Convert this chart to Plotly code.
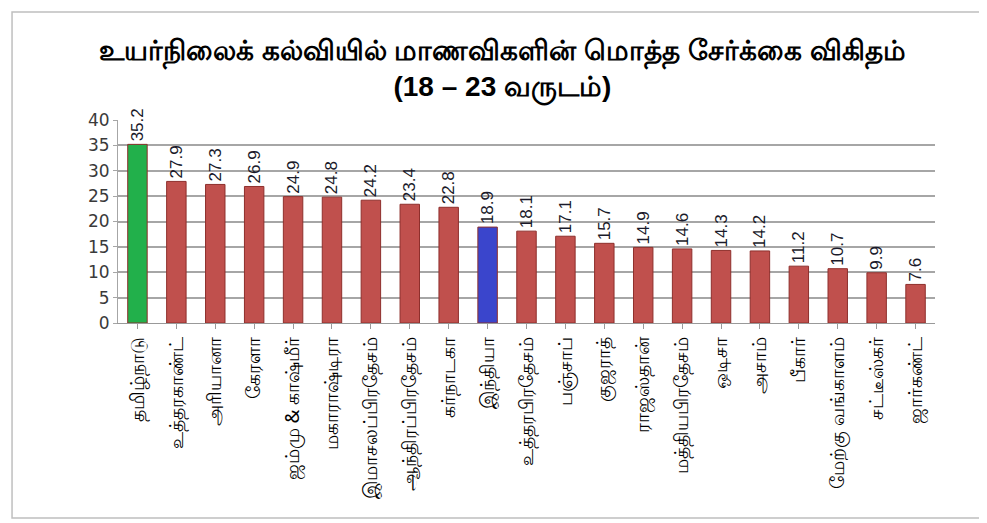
import plotly.graph_objects as go

states = ["தமிழ்நாடு", "உத்தரகாண்ட்", "அரியானா", "கேரளா", "ஜம்மு & காஷ்மீர்",
          "மகாராஷ்டிரா", "இமாசலப்பிரதேசம்", "ஆந்திரப்பிரதேசம்", "கர்நாடகா", "இந்தியா",
          "உத்தரபிரதேசம்", "பஞ்சாப்", "குஜராத்", "ராஜஸ்தான்", "மத்தியபிரதேசம்",
          "ஒடிசா", "அசாம்", "பீகார்", "மேற்கு வங்காளம்", "சட்டீஸ்கர்", "ஜார்கண்ட்"]
ratio = [35.2, 27.9, 27.3, 26.9, 24.9, 24.8, 24.2, 23.4, 22.8, 18.9,
         18.1, 17.1, 15.7, 14.9, 14.6, 14.3, 14.2, 11.2, 10.7, 9.9, 7.6]
y_ticks = [0, 5, 10, 15, 20, 25, 30, 35, 40]

colors = []
for s in states:
    if s == "தமிழ்நாடு":
        colors.append("#22B04B")
    elif s == "இந்தியா":
        colors.append("#3A45CC")
    else:
        colors.append("#C0504D")

fig = go.Figure(go.Bar(
    x=states, y=ratio,
    marker=dict(color=colors, line=dict(color="#8E2F2C", width=1)),
    text=[f"{v:.1f}" for v in ratio],
    textposition="outside", textangle=-90, constraintext="none",
    textfont=dict(family="Liberation Sans Narrow, Arial Narrow, sans-serif", size=17, color="#1a1a2a"),
    cliponaxis=False,
))

fig.update_layout(
    width=979, height=515,
    margin=dict(l=110, r=52, t=112, b=200),
    paper_bgcolor="white", plot_bgcolor="white",
    bargap=0.5,
    showlegend=False,
    title=dict(
        text="<b>உயர்நிலைக் கல்வியில் மாணவிகளின் மொத்த சேர்க்கை விகிதம்<br>(18 – 23 வருடம்)</b>",
        x=0.505, xanchor="center", y=0.90, yanchor="top",
        font=dict(family="Liberation Sans Narrow, Arial Narrow, sans-serif", size=28, color="black"),
    ),
    xaxis=dict(
        tickangle=-90, showline=True, linecolor="#999999", linewidth=1,
        ticks="outside", ticklen=5, tickcolor="#999999",
        tickfont=dict(family="Noto Sans, sans-serif", size=19, color="black"),
    ),
    yaxis=dict(
        range=[0, 40], tickvals=y_ticks, showgrid=True, gridcolor="#A6A6A6", gridwidth=2,
        showline=True, linecolor="#A6A6A6", linewidth=1, ticks="outside", ticklen=4,
        tickcolor="#A6A6A6", zeroline=False,
        tickfont=dict(family="Verdana, DejaVu Sans, sans-serif", size=17, color="#3a3a3a"),
    ),
    shapes=[dict(type="rect", xref="paper", yref="paper",
                 x0=-0.1297, x1=1.0575, y0=-0.96, y1=1.532,
                 line=dict(color="#BFBFBF", width=1.5), fillcolor="rgba(0,0,0,0)", layer="below")],
)

fig.write_html("out.html")
